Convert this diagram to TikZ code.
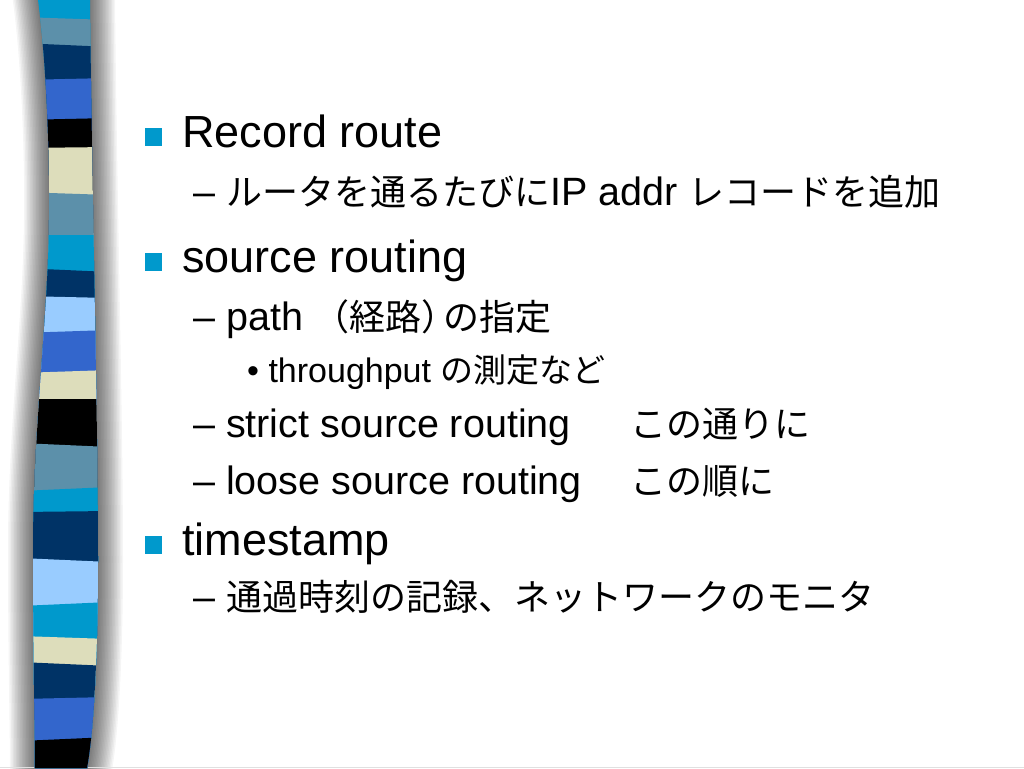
\documentclass[tikz,border=0pt]{standalone}
\usepackage{fontspec}
\setmainfont{Liberation Sans}
\newfontfamily\jp{Noto Sans CJK JP}
\usepackage{tikz}
\definecolor{cyanband}{RGB}{0,153,204}
\definecolor{steelband}{RGB}{92,144,170}
\definecolor{navyband}{RGB}{0,51,102}
\definecolor{royalband}{RGB}{51,102,204}
\definecolor{beigeband}{RGB}{221,221,187}
\definecolor{skyband}{RGB}{153,204,255}
\definecolor{bulletsq}{RGB}{0,153,204}
\newcommand{\jtwo}[1]{{\fontsize{36}{40}\selectfont\jp #1}}
\newcommand{\jthree}[1]{{\fontsize{33}{36}\selectfont\jp #1}}
\def\stripe{(38,0) .. controls (46,60) and (50,150) .. (49,220)
  .. controls (48,320) and (34,420) .. (33,540)
  .. controls (33,660) and (35,730) .. (35,768) -- (87,768)
  .. controls (94,730) and (98,650) .. (98,560)
  .. controls (98,420) and (92,200) .. (90,0) -- cycle}

\begin{document}
\begin{tikzpicture}[x=1pt, y=-1pt,
    lone/.style={anchor=base west, inner sep=0pt, font=\fontsize{45}{54}\selectfont},
    ltwo/.style={anchor=base west, inner sep=0pt, font=\fontsize{39.5}{48}\selectfont},
    lthree/.style={anchor=base west, inner sep=0pt, font=\fontsize{34}{40}\selectfont}]
        \useasboundingbox (0,0) rectangle (1024,768);
        \fill[white] (0,0) rectangle (1024,768);
        \foreach \w in {50,47,...,2}
        \draw[line width=\w pt, black, opacity=0.038] \stripe;
        \draw[black!12, line width=1.2pt] (0,767.4) -- (1024,767.4);
        \begin{scope}
        \clip \stripe;
        \foreach \yl/\yr/\c in {0/0/cyanband, 17/20/steelband, 43/47/navyband,
          80/78/royalband, 120/118/black, 148/147/beigeband, 192/195/steelband,
          235/235/cyanband, 268/272/navyband, 296/298/skyband, 333/330/royalband,
          373/370/beigeband, 399/399/black, 443/447/steelband, 491/487/cyanband,
          512/511/navyband, 558/562/skyband, 606/602/cyanband, 636/639/beigeband,
          662/666/navyband, 699/697/royalband, 741/737/black}
        \fill[\c] (20,\yl) -- (110,\yr) -- (110,780) -- (20,780) -- cycle;
        \end{scope}
        \foreach \b in {147,272,555}
        \fill[bulletsq] (145,\b-19) rectangle (162,\b-1);
        \node[lone] (record) at (182,147) {Record route};
        \node[ltwo] (routerip) at (193,205) {– \jtwo{ルータを通るたびに}IP addr \jtwo{レコードを追加}};
        \node[lone] (source) at (182,272) {source routing};
        \node[ltwo] (path) at (193,330) {– path \jtwo{（経路）\kern-15pt の指定}};
        \node[lthree] (thru) at (247,382) {• throughput \jthree{の測定など}};
        \node[ltwo] (strict) at (193,437) {– strict source routing};
        \node[ltwo] (strictjp) at (630,437) {\jtwo{この通りに}};
        \node[ltwo] (loose) at (193,494) {– loose source routing};
        \node[ltwo] (loosejp) at (630,494) {\jtwo{この順に}};
        \node[lone] (stamp) at (182,555) {timestamp};
        \node[ltwo] (monitor) at (193,610) {– \jtwo{通過時刻の記録、ネットワークのモニタ}};
    \end{tikzpicture}
\end{document}
